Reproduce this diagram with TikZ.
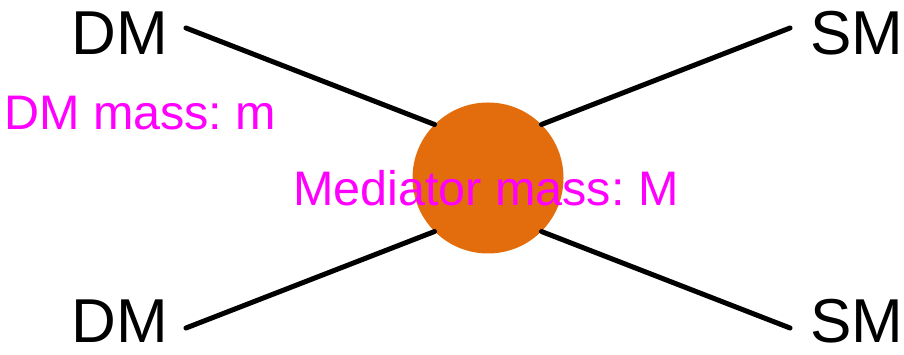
\documentclass[tikz,border=0pt]{standalone}
\usepackage{fontspec}
\setmainfont{Liberation Sans}
\frenchspacing
\definecolor{medorange}{RGB}{227,108,12}
\definecolor{mag}{RGB}{255,0,255}
\begin{document}
\begin{tikzpicture}[x=1pt,y=1pt,
  leg/.style={line width=5pt,line cap=round,black},
  particle/.style={inner sep=0pt,font=\fontsize{62}{62}\selectfont},
  masslabel/.style={inner sep=0pt,text=mag,font=\fontsize{48.5}{48.5}\selectfont}]
\useasboundingbox (0,0) rectangle (904,355);
\node[circle,fill=medorange,minimum size=151pt,inner sep=0pt] (c) at (488,177) {};
\coordinate (tl) at (186,327);
\coordinate (bl) at (186,27);
\coordinate (tr) at (790,327);
\coordinate (br) at (790,27);
\draw[leg] (tl) -- (c.135);
\draw[leg] (bl) -- (c.225);
\draw[leg] (tr) -- (c.45);
\draw[leg] (br) -- (c.315);
\node[particle,anchor=base east] (dm1) at (168,300) {DM};
\node[particle,anchor=base east] (dm2) at (168,12) {DM};
\node[particle,anchor=base west] (sm1) at (810,300) {SM};
\node[particle,anchor=base west] (sm2) at (810,12) {SM};
\node[masslabel,anchor=base west] (mdm) at (4,225) {DM mass: m};
\node[masslabel,anchor=base west] (mmed) at (293,149) {Mediator mass: M};
\end{tikzpicture}
\end{document}
